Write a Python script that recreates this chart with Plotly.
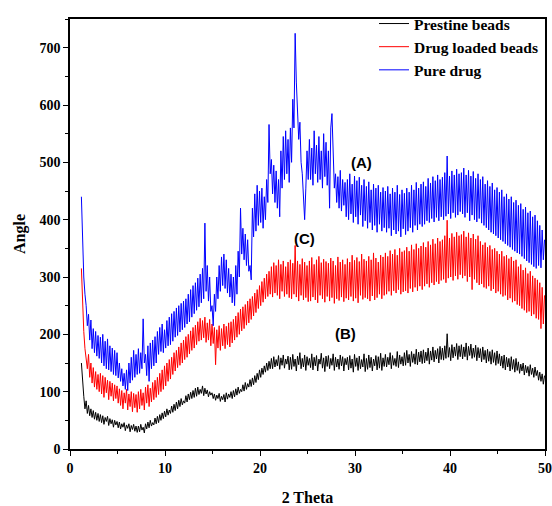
import numpy as np
import plotly.graph_objects as go

# 2-theta grid (degrees), 0.125 step starting at 1.2 (391 points, up to 49.95)
two_theta = np.round(1.2 + 0.125 * np.arange(391), 3)

prestine_beads = [
    150, 108, 92, 70, 84, 62, 76, 58, 70, 55, 67, 52, 64, 50, 62, 48,
    60, 46, 58, 43, 55, 48, 57, 41, 53, 44, 51, 38, 50, 42, 48, 37,
    47, 35, 44, 38, 46, 32, 42, 36, 44, 30, 41, 34, 43, 31, 40, 29,
    40, 30, 43, 33, 38, 28, 44, 35, 47, 37, 50, 40, 46, 42, 54, 44,
    57, 46, 60, 50, 63, 53, 66, 56, 70, 59, 68, 62, 75, 64, 78, 67,
    82, 70, 85, 74, 88, 77, 84, 80, 93, 82, 96, 86, 99, 88, 102, 90,
    106, 92, 108, 95, 104, 97, 110, 93, 106, 96, 103, 91, 100, 94, 98, 88,
    96, 85, 94, 88, 97, 83, 92, 86, 95, 82, 98, 87, 96, 90, 100, 88,
    102, 91, 105, 94, 108, 97, 104, 100, 112, 101, 116, 104, 114, 108, 121, 109,
    124, 112, 128, 116, 132, 121, 138, 125, 141, 130, 145, 134, 150, 137, 153, 140,
    158, 140, 161, 143, 156, 145, 163, 139, 159, 146, 164, 141, 157, 148, 162, 138,
    160, 139, 165, 144, 157, 136, 162, 147, 168, 140, 158, 143, 164, 137, 161, 146,
    158, 142, 166, 138, 160, 145, 163, 136, 157, 148, 167, 141, 159, 135, 162, 144,
    163, 140, 158, 146, 166, 137, 160, 143, 157, 139, 164, 145, 161, 136, 158, 147,
    160, 138, 163, 141, 157, 134, 165, 144, 159, 137, 162, 140, 156, 143, 166, 135,
    158, 139, 164, 142, 160, 136, 157, 145, 163, 138, 161, 141, 167, 137, 159, 144,
    165, 143, 160, 147, 168, 140, 163, 146, 158, 144, 170, 142, 164, 148, 161, 145,
    168, 146, 172, 150, 165, 144, 170, 151, 166, 148, 174, 147, 169, 152, 171, 149,
    173, 150, 169, 154, 176, 148, 171, 155, 178, 152, 172, 157, 175, 150, 179, 156,
    176, 155, 180, 158, 201, 160, 177, 154, 182, 159, 178, 162, 184, 156, 180, 161,
    182, 157, 178, 161, 185, 155, 179, 163, 183, 158, 176, 160, 181, 154, 177, 159,
    175, 152, 178, 156, 172, 150, 174, 153, 170, 148, 173, 151, 168, 146, 171, 149,
    166, 145, 162, 141, 164, 138, 160, 143, 158, 136, 161, 139, 156, 134, 158, 137,
    152, 132, 148, 136, 150, 129, 146, 133, 144, 127, 147, 130, 141, 125, 143, 128,
    137, 120, 134, 118, 131, 113, 128,
]

drug_loaded_beads = [
    315, 250, 205, 175, 160, 140, 165, 125, 150, 115, 142, 108, 135, 104, 130, 100,
    132, 96, 128, 90, 125, 98, 120, 86, 118, 92, 115, 84, 112, 88, 110, 80,
    105, 76, 102, 70, 98, 80, 104, 68, 96, 74, 100, 65, 97, 72, 95, 64,
    100, 70, 104, 76, 98, 68, 108, 80, 112, 74, 106, 82, 116, 86, 120, 90,
    125, 95, 132, 100, 138, 104, 145, 110, 150, 118, 156, 122, 160, 130, 168, 136,
    172, 142, 178, 146, 185, 150, 190, 156, 196, 160, 200, 166, 206, 172, 212, 176,
    216, 182, 222, 188, 228, 190, 224, 194, 230, 186, 220, 190, 226, 180, 218, 184,
    212, 147, 208, 176, 215, 172, 210, 180, 218, 175, 214, 182, 220, 178, 222, 185,
    226, 190, 232, 195, 238, 200, 244, 206, 248, 210, 252, 216, 258, 220, 262, 226,
    266, 232, 272, 238, 278, 245, 285, 250, 292, 256, 298, 262, 305, 266, 310, 270,
    318, 265, 325, 272, 320, 268, 330, 262, 322, 275, 328, 266, 318, 270, 326, 264,
    330, 262, 324, 270, 355, 265, 328, 258, 322, 268, 332, 260, 326, 264, 320, 257,
    328, 258, 334, 265, 322, 260, 330, 255, 336, 268, 325, 262, 331, 256, 327, 266,
    324, 258, 333, 264, 328, 254, 320, 262, 335, 259, 326, 265, 330, 257, 322, 263,
    332, 260, 326, 266, 338, 258, 329, 263, 334, 255, 327, 268, 340, 261, 331, 264,
    328, 262, 336, 258, 330, 267, 342, 260, 333, 264, 326, 270, 338, 262, 335, 268,
    342, 270, 336, 275, 346, 268, 340, 276, 348, 272, 338, 278, 350, 270, 344, 274,
    346, 276, 352, 272, 345, 280, 356, 274, 348, 282, 358, 276, 350, 284, 354, 278,
    360, 284, 352, 288, 362, 282, 356, 290, 366, 286, 358, 292, 368, 288, 362, 294,
    365, 296, 372, 290, 399, 298, 368, 300, 376, 294, 370, 302, 378, 296, 372, 304,
    374, 298, 380, 302, 370, 292, 377, 300, 368, 278, 375, 296, 366, 290, 372, 286,
    362, 288, 356, 282, 360, 280, 352, 284, 355, 276, 348, 279, 350, 272, 345, 275,
    340, 270, 345, 266, 336, 268, 338, 260, 332, 263, 335, 256, 328, 258, 330, 252,
    318, 250, 322, 245, 312, 242, 316, 238, 306, 240, 310, 232, 302, 235, 298, 228,
    295, 226, 290, 210, 282, 218, 268,
]

pure_drug = [
    440, 340, 300, 270, 250, 215, 235, 190, 225, 175, 210, 168, 205, 162, 198, 158,
    195, 150, 200, 145, 188, 140, 192, 138, 180, 135, 176, 130, 172, 128, 168, 124,
    150, 118, 140, 110, 132, 104, 138, 102, 150, 115, 160, 120, 172, 125, 165, 130,
    175, 132, 168, 140, 227, 150, 165, 128, 180, 118, 185, 140, 190, 145, 196, 150,
    205, 165, 212, 170, 218, 168, 208, 176, 224, 180, 230, 182, 236, 188, 240, 195,
    246, 198, 250, 204, 254, 208, 258, 212, 262, 218, 270, 222, 278, 230, 285, 236,
    290, 242, 298, 248, 305, 255, 315, 262, 394, 275, 320, 258, 300, 240, 250, 215,
    270, 240, 300, 262, 320, 275, 335, 285, 340, 280, 330, 272, 315, 265, 305, 255,
    300, 250, 320, 270, 345, 300, 420, 340, 385, 330, 375, 320, 365, 310, 320, 295,
    420, 370, 445, 380, 460, 390, 450, 395, 455, 385, 440, 400, 470, 430, 566, 480,
    505, 445, 495, 430, 485, 420, 470, 405, 520, 455, 545, 470, 555, 480, 540, 465,
    560, 500, 610, 560, 725, 640, 580, 540, 570, 500, 480, 440, 400, 455, 520, 470,
    540, 470, 525, 460, 555, 480, 530, 465, 545, 470, 520, 455, 550, 475, 535, 460,
    520, 420, 560, 585, 500, 455, 480, 430, 475, 420, 486, 415, 470, 425, 465, 405,
    470, 400, 480, 410, 462, 395, 476, 405, 468, 392, 474, 408, 460, 388, 470, 398,
    458, 385, 466, 395, 452, 382, 462, 390, 455, 378, 460, 392, 448, 380, 456, 386,
    450, 378, 458, 385, 445, 372, 455, 382, 448, 375, 460, 380, 444, 370, 452, 384,
    446, 374, 455, 380, 448, 386, 460, 378, 452, 390, 465, 382, 455, 392, 462, 388,
    466, 392, 458, 398, 472, 395, 464, 402, 475, 396, 468, 404, 478, 398, 470, 405,
    474, 400, 482, 406, 511, 410, 476, 402, 485, 412, 478, 404, 488, 408, 480, 414,
    482, 410, 490, 404, 478, 412, 486, 398, 476, 408, 484, 400, 472, 396, 480, 402,
    470, 394, 475, 390, 462, 386, 468, 382, 458, 378, 464, 375, 452, 372, 456, 368,
    448, 365, 452, 362, 440, 358, 445, 355, 436, 352, 440, 348, 430, 345, 434, 342,
    425, 340, 428, 336, 418, 332, 422, 328, 412, 325, 415, 322, 405, 318, 408, 315,
    398, 320, 390, 316, 382, 330, 365,
]

series_names = ["Prestine beads", "Drug loaded beads", "Pure drug"]
series_colors = ["#000000", "#ff0000", "#0000ff"]
series_values = [prestine_beads, drug_loaded_beads, pure_drug]

labels = ["(A)", "(C)", "(B)"]
label_x = [30.7, 24.7, 29.0]
label_y = [500, 368, 202]

x_tickvals = [0, 10, 20, 30, 40, 50]
y_tickvals = [0, 100, 200, 300, 400, 500, 600, 700]

serif = "Liberation Serif, Times New Roman, serif"

fig = go.Figure()
for name, color, vals in zip(series_names, series_colors, series_values):
    fig.add_trace(go.Scatter(x=two_theta, y=vals, mode="lines", name=name,
                             line=dict(color=color, width=1)))

for t, ax, ay in zip(labels, label_x, label_y):
    fig.add_annotation(x=ax, y=ay, text=t, showarrow=False,
                       font=dict(family="Liberation Sans, Arial, sans-serif", size=15,
                                 color="black", weight="bold"))

axis_common = dict(showline=True, linecolor="black", linewidth=1.5, mirror=True,
                   ticks="outside", ticklen=5, tickwidth=1.2, tickcolor="black",
                   showgrid=False, zeroline=False, automargin=False,
                   tickfont=dict(family=serif, size=14, color="black", weight="bold"))

fig.update_xaxes(range=[0, 50], tickvals=x_tickvals,
                 minor=dict(dtick=5, ticks="outside", ticklen=3, tickcolor="black", tickwidth=1.2),
                 title=dict(text="2 Theta", standoff=19,
                            font=dict(family=serif, size=16, color="black", weight="bold")),
                 **axis_common)
fig.update_yaxes(range=[0, 750], tickvals=y_tickvals,
                 minor=dict(dtick=50, ticks="outside", ticklen=3, tickcolor="black", tickwidth=1.2),
                 title=dict(text="Angle", standoff=10,
                            font=dict(family=serif, size=16, color="black", weight="bold")),
                 **axis_common)

fig.update_layout(
    width=552, height=506,
    margin=dict(l=70, r=7, t=14, b=57),
    plot_bgcolor="white", paper_bgcolor="white",
    showlegend=True,
    legend=dict(x=0.64, y=1.028, xanchor="left", yanchor="top",
                bgcolor="rgba(0,0,0,0)", borderwidth=0,
                font=dict(family=serif, size=15.5, color="black", weight="bold"),
                itemwidth=30, tracegroupgap=0),
)

fig.write_html("out.html",
               config={"displayModeBar": False},
               post_script="document.body.style.margin='0';document.body.style.padding='0';")
